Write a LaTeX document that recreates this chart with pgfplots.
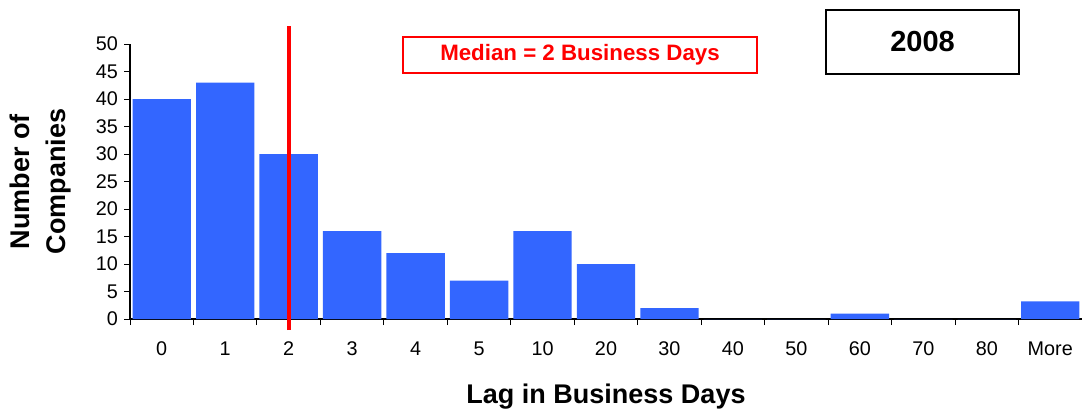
\documentclass[border=0pt]{standalone}
\usepackage{pgfplots}
\pgfplotsset{compat=1.18}
\usepackage{fontspec}
\setmainfont{Liberation Sans}
\definecolor{barblue}{HTML}{3366FF}
\definecolor{medred}{HTML}{FF0000}
\begin{document}
\begin{tikzpicture}
\useasboundingbox (0,0) rectangle (1082bp,-414bp);
\begin{axis}[
  at={(130bp,-319bp)}, anchor=south west,
  scale only axis, width=952bp, height=275bp,
  xmin=-0.5, xmax=14.5, ymin=0, ymax=50,
  axis lines*=left,
  axis line style={line width=1.2bp, black},
  clip=false,
  ybar, bar width=0.92,
  xtick={0,...,14},
  xticklabels={0,1,2,3,4,5,10,20,30,40,50,60,70,80,More},
  minor xtick={-0.5,0.5,...,14.5},
  ytick={0,5,...,50},
  tick align=outside,
  major tick length=6bp,
  minor tick length=6bp,
  tick style={line width=1bp, black},
  major x tick style={draw=none},
  /pgf/number format/assume math mode=true,
  ticklabel style={font=\fontsize{19.8bp}{23bp}\selectfont},
  xticklabel style={anchor=base, yshift=-30bp},
  yticklabel style={inner sep=6bp},
  xlabel={Lag in Business Days},
  xlabel style={at={(axis description cs:0.5,0)}, anchor=base, yshift=-84bp, font=\fontsize{27bp}{32bp}\selectfont\bfseries},
  ylabel={Number of\\Companies},
  ylabel style={at={(axis description cs:-0.0935,0.5)}, anchor=center, align=center, font=\fontsize{27bp}{36bp}\selectfont\bfseries},
]
\addplot[fill=barblue, draw=none] coordinates {
 (0,40) (1,43) (2,30) (3,16) (4,12) (5,7) (6,16) (7,10)
 (8,2) (9,0) (10,0) (11,1) (12,0) (13,0) (14,3.2)};
\addplot[sharp plot, medred, line width=4bp, forget plot] coordinates {(2,-2) (2,53.3)};
\end{axis}
\node[draw=medred, line width=2bp, minimum width=354bp, minimum height=36bp, inner sep=0pt,
      text=medred, font=\fontsize{22.3bp}{26bp}\selectfont\bfseries] at (580bp,-55bp) {Median = 2 Business Days};
\node[draw=black, line width=2.5bp, minimum width=193bp, minimum height=64bp, inner sep=0pt,
      font=\fontsize{29bp}{34bp}\selectfont\bfseries] at (922.5bp,-42bp) {2008};
\end{tikzpicture}
\end{document}
